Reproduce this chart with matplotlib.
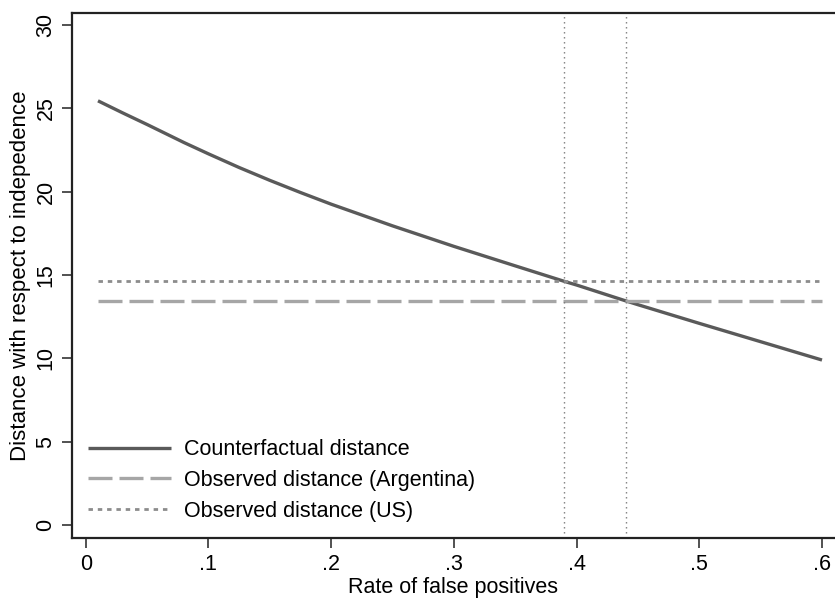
import numpy as np
import matplotlib.pyplot as plt

plt.rcParams['font.family'] = ['Liberation Sans', 'DejaVu Sans']

# Values
rate = [0.01, 0.03, 0.05, 0.08, 0.10, 0.125, 0.15, 0.175, 0.20, 0.25, 0.30, 0.35,
        0.39, 0.40, 0.44, 0.45, 0.50, 0.55, 0.60]
counterfactual = [25.45, 24.73, 24.03, 22.95, 22.27, 21.45, 20.68, 19.95, 19.25, 17.95,
                  16.72, 15.55, 14.62, 14.4, 13.45, 13.22, 12.1, 11.0, 9.9]
observed_arg = 13.45
observed_us = 14.65
cross_us = 0.39
cross_arg = 0.44

xticks = [0, 0.1, 0.2, 0.3, 0.4, 0.5, 0.6]
xticklabels = ['0', '.1', '.2', '.3', '.4', '.5', '.6']
yticks = [0, 5, 10, 15, 20, 25, 30]

fig = plt.figure(figsize=(8.35, 5.98), dpi=100)
ax = fig.add_axes([0.0859, 0.1008, 0.9141, 0.8775])

ax.plot(rate, counterfactual, color='#5a5a5a', lw=2.4, solid_capstyle='butt',
        solid_joinstyle='round', label='Counterfactual distance')
ax.plot([rate[0], rate[-1]], [observed_arg, observed_arg], color='#a6a6a6', lw=2.4,
        dashes=(7.2, 2.1), label='Observed distance (Argentina)')
ax.plot([rate[0], rate[-1]], [observed_us, observed_us], color='#8c8c8c', lw=2.0,
        dashes=(1.6, 1.75), label='Observed distance (US)')

for xv in [cross_us, cross_arg]:
    ax.axvline(xv, color='#7a7a7a', lw=1.0, dashes=(1, 2.6))

ax.set_xlim(-0.0114, 0.6106)
ax.set_ylim(-0.76, 30.72)
ax.set_xticks(xticks)
ax.set_xticklabels(xticklabels)
ax.set_yticks(yticks)
ax.set_yticklabels([str(v) for v in yticks], rotation=90, va='center')

ax.tick_params(axis='both', labelsize=15.5, length=7, width=1.2, color='#333333')
ax.tick_params(axis='x', pad=5)
ax.tick_params(axis='y', pad=4)
ax.set_xlabel('Rate of false positives', fontsize=15.5, labelpad=1)
ax.set_ylabel('Distance with respect to indepedence', fontsize=16, labelpad=3)

ax.spines['right'].set_visible(False)
for s in ['left', 'bottom', 'top']:
    ax.spines[s].set_linewidth(1.6)
    ax.spines[s].set_color('#222222')

ax.legend(loc='lower left', frameon=False, fontsize=15.5, handlelength=3.85,
          handletextpad=0.6, labelspacing=0.45, borderaxespad=0.45,
          borderpad=0.3)

fig.savefig('out.png', dpi=100)
